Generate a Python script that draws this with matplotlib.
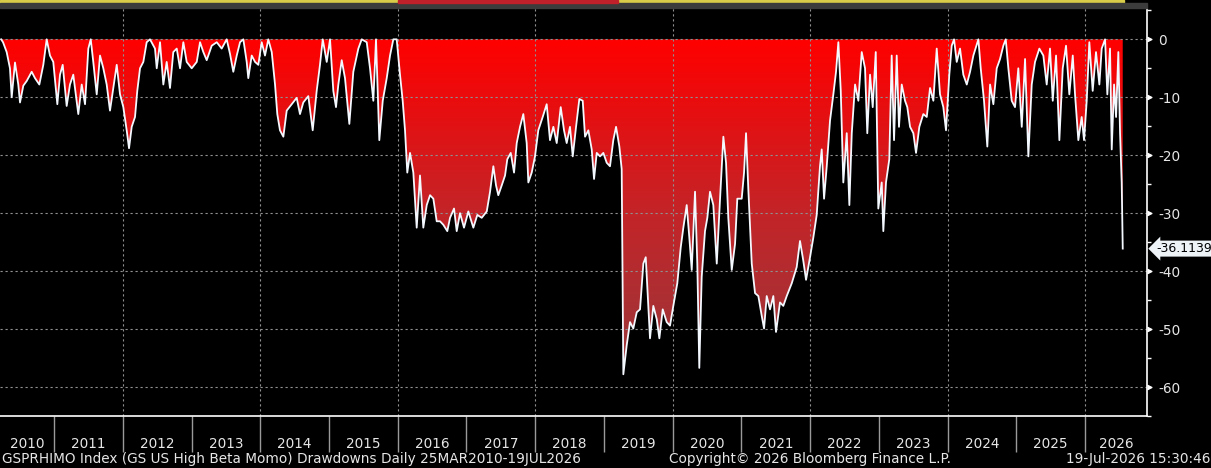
import numpy as np
import matplotlib
matplotlib.use('Agg')
import matplotlib.pyplot as plt
from matplotlib import font_manager
from matplotlib.colors import LinearSegmentedColormap
from matplotlib.transforms import blended_transform_factory

# drawdown (%), dates as decimal years
dates = [2010.230, 2010.258, 2010.311, 2010.359, 2010.384, 2010.432, 2010.480, 2010.505, 2010.553, 2010.602,
         2010.675, 2010.723, 2010.786, 2010.844, 2010.893, 2010.941, 2010.989, 2011.048, 2011.087, 2011.126,
         2011.184, 2011.232, 2011.280, 2011.353, 2011.403, 2011.451, 2011.499, 2011.534, 2011.571, 2011.621,
         2011.669, 2011.717, 2011.766, 2011.814, 2011.862, 2011.912, 2011.960, 2012.008, 2012.057, 2012.091,
         2012.130, 2012.178, 2012.211, 2012.251, 2012.299, 2012.348, 2012.396, 2012.469, 2012.494, 2012.542,
         2012.590, 2012.639, 2012.687, 2012.735, 2012.785, 2012.833, 2012.881, 2012.930, 2013.003, 2013.076,
         2013.124, 2013.172, 2013.221, 2013.294, 2013.367, 2013.439, 2013.512, 2013.560, 2013.608, 2013.658,
         2013.706, 2013.754, 2013.803, 2013.826, 2013.876, 2013.924, 2013.972, 2014.021, 2014.069, 2014.117,
         2014.167, 2014.215, 2014.248, 2014.287, 2014.336, 2014.385, 2014.458, 2014.530, 2014.578, 2014.626,
         2014.699, 2014.763, 2014.821, 2014.869, 2014.909, 2014.967, 2015.015, 2015.063, 2015.102, 2015.136,
         2015.185, 2015.233, 2015.296, 2015.354, 2015.427, 2015.476, 2015.549, 2015.597, 2015.645, 2015.684,
         2015.732, 2015.782, 2015.840, 2015.888, 2015.936, 2015.985, 2016.033, 2016.072, 2016.106, 2016.139,
         2016.179, 2016.227, 2016.276, 2016.324, 2016.372, 2016.422, 2016.470, 2016.518, 2016.567, 2016.615,
         2016.663, 2016.721, 2016.761, 2016.819, 2016.858, 2016.906, 2016.964, 2017.027, 2017.100, 2017.158,
         2017.222, 2017.295, 2017.343, 2017.391, 2017.430, 2017.463, 2017.513, 2017.561, 2017.594, 2017.644,
         2017.692, 2017.731, 2017.779, 2017.827, 2017.876, 2017.900, 2017.949, 2017.997, 2018.045, 2018.109,
         2018.167, 2018.215, 2018.264, 2018.313, 2018.371, 2018.419, 2018.458, 2018.506, 2018.546, 2018.594,
         2018.642, 2018.691, 2018.725, 2018.773, 2018.822, 2018.856, 2018.895, 2018.943, 2018.991, 2019.040,
         2019.088, 2019.136, 2019.176, 2019.224, 2019.258, 2019.282, 2019.331, 2019.379, 2019.427, 2019.477,
         2019.525, 2019.573, 2019.608, 2019.637, 2019.670, 2019.718, 2019.768, 2019.806, 2019.855, 2019.913,
         2019.961, 2020.009, 2020.067, 2020.117, 2020.155, 2020.204, 2020.242, 2020.277, 2020.325, 2020.358,
         2020.387, 2020.422, 2020.470, 2020.504, 2020.543, 2020.591, 2020.641, 2020.689, 2020.737, 2020.776,
         2020.809, 2020.859, 2020.907, 2020.940, 2021.004, 2021.038, 2021.067, 2021.100, 2021.150, 2021.198,
         2021.246, 2021.295, 2021.329, 2021.368, 2021.416, 2021.464, 2021.503, 2021.561, 2021.609, 2021.659,
         2021.732, 2021.804, 2021.852, 2021.900, 2021.940, 2021.998, 2022.046, 2022.095, 2022.143, 2022.168,
         2022.202, 2022.241, 2022.289, 2022.337, 2022.376, 2022.410, 2022.445, 2022.482, 2022.532, 2022.570,
         2022.605, 2022.653, 2022.701, 2022.750, 2022.798, 2022.831, 2022.871, 2022.910, 2022.954, 2022.991,
         2023.041, 2023.064, 2023.103, 2023.151, 2023.186, 2023.220, 2023.259, 2023.292, 2023.332, 2023.380,
         2023.413, 2023.453, 2023.501, 2023.540, 2023.588, 2023.646, 2023.696, 2023.744, 2023.792, 2023.841,
         2023.889, 2023.937, 2023.976, 2024.024, 2024.059, 2024.093, 2024.132, 2024.180, 2024.228, 2024.278,
         2024.326, 2024.374, 2024.447, 2024.481, 2024.529, 2024.577, 2024.617, 2024.665, 2024.714, 2024.762,
         2024.810, 2024.845, 2024.883, 2024.932, 2024.980, 2025.028, 2025.078, 2025.126, 2025.174, 2025.223,
         2025.271, 2025.334, 2025.392, 2025.441, 2025.489, 2025.529, 2025.577, 2025.625, 2025.674, 2025.722,
         2025.770, 2025.820, 2025.853, 2025.901, 2025.950, 2025.984, 2026.023, 2026.061, 2026.110, 2026.158,
         2026.207, 2026.241, 2026.290, 2026.323, 2026.362, 2026.387, 2026.421, 2026.450, 2026.483, 2026.508,
         2026.532, 2026.547]

drawdown = [0.0, -0.5, -2.2, -5.0, -10.0, -4.0, -7.8, -10.9, -8.0, -7.2,
            -5.6, -6.7, -7.8, -4.4, 0.0, -2.8, -3.9, -11.2, -6.1, -4.4,
            -11.5, -7.8, -6.1, -12.9, -7.8, -11.2, -1.6, 0.0, -3.9, -9.5,
            -2.8, -5.0, -7.8, -12.3, -8.4, -4.4, -9.5, -11.7, -15.7, -18.8,
            -15.1, -13.4, -8.9, -5.0, -3.9, -0.5, 0.0, -1.6, -5.0, -0.5,
            -7.8, -3.9, -8.4, -2.2, -1.6, -5.0, -0.5, -3.9, -5.0, -3.9,
            -0.5, -2.2, -3.6, -1.1, -0.5, -1.6, 0.0, -2.5, -5.6, -2.8,
            -0.5, 0.0, -3.9, -6.7, -2.8, -3.9, -4.4, -0.5, -2.8, 0.0,
            -2.2, -7.8, -12.9, -15.7, -16.8, -12.3, -11.2, -10.1, -12.9, -10.9,
            -9.8, -15.7, -8.9, -4.4, 0.0, -3.9, 0.0, -8.9, -11.7, -7.8,
            -3.6, -6.7, -14.6, -5.6, -1.6, 0.0, -0.5, -5.0, -10.6, 0.0,
            -17.4, -10.6, -6.7, -2.8, 0.0, 0.0, -6.1, -10.6, -15.7, -23.0,
            -19.6, -23.0, -32.5, -23.5, -32.5, -28.6, -26.9, -27.5, -31.4, -31.4,
            -32.0, -33.1, -30.8, -29.2, -33.1, -30.0, -32.5, -29.7, -32.5, -30.3,
            -30.8, -29.7, -26.3, -21.9, -25.2, -26.9, -25.2, -23.5, -20.7, -19.6,
            -23.0, -17.9, -15.1, -12.9, -17.9, -24.7, -23.0, -20.2, -15.7, -13.4,
            -11.2, -17.4, -15.1, -17.9, -11.7, -15.7, -17.9, -15.1, -20.2, -15.1,
            -10.3, -10.6, -16.8, -15.7, -19.0, -24.1, -19.6, -20.2, -19.6, -21.3,
            -21.9, -17.4, -15.1, -18.5, -22.4, -57.8, -52.8, -48.8, -49.9, -47.1,
            -46.6, -38.7, -37.6, -44.3, -51.6, -46.0, -48.3, -51.6, -46.6, -48.8,
            -49.4, -46.0, -42.1, -35.9, -32.5, -28.6, -34.2, -39.8, -26.3, -38.7,
            -56.7, -41.0, -33.1, -30.8, -26.3, -28.6, -38.7, -27.5, -16.8, -21.3,
            -30.8, -39.8, -35.3, -27.5, -27.5, -23.0, -16.2, -25.8, -38.7, -43.8,
            -44.3, -47.7, -49.9, -44.3, -46.6, -44.3, -50.5, -45.4, -46.0, -44.3,
            -42.1, -39.3, -34.8, -38.2, -41.5, -37.6, -34.2, -30.3, -21.9, -19.0,
            -27.5, -21.9, -14.0, -9.5, -5.6, -0.5, -8.9, -24.7, -16.2, -28.6,
            -16.2, -7.8, -10.6, -2.2, -5.0, -16.2, -6.1, -11.7, -2.2, -29.2,
            -24.7, -33.1, -24.7, -20.7, -2.8, -17.4, -2.8, -15.1, -7.8, -10.6,
            -11.7, -15.1, -16.2, -19.6, -15.1, -12.9, -13.4, -8.4, -10.6, -1.6,
            -9.5, -11.7, -15.7, -6.1, -1.1, 0.0, -3.9, -1.6, -6.1, -7.8,
            -5.6, -2.8, 0.0, -5.0, -10.6, -18.5, -7.8, -11.2, -5.0, -3.4,
            -1.1, 0.0, -5.0, -10.6, -11.7, -5.0, -15.1, -3.4, -20.2, -7.8,
            -3.9, -1.6, -2.8, -7.8, -1.6, -10.6, -2.8, -17.4, -5.0, -1.1,
            -9.5, -2.8, -9.5, -17.4, -13.4, -17.4, -10.6, -0.5, -8.9, -2.2,
            -7.8, -1.6, 0.0, -9.5, -1.6, -19.0, -7.8, -13.4, -2.2, -16.2,
            -24.7, -36.1139]

years = list(range(2010, 2027))
y_ticks = [0, -10, -20, -30, -40, -50, -60]
grid_years = [2012, 2014, 2016, 2018, 2020, 2022, 2024, 2026]

title_text = "GSPRHIMO Index (GS US High Beta Momo) Drawdowns Daily 25MAR2010-19JUL2026"
copyright_text = "Copyright\u00a9 2026 Bloomberg Finance L.P."
stamp_text = "19-Jul-2026 15:30:46"

# Bloomberg uses a narrow font; pick one if installed, else DejaVu a bit smaller
names = {f.name for f in font_manager.fontManager.ttflist}
if 'Liberation Sans Narrow' in names:
    family, fs, tag_fs, xpad = 'Liberation Sans Narrow', 10.8, 10.8, 14.5
else:
    family, fs, tag_fs, xpad = 'DejaVu Sans', 9.8, 9, 15
plt.rcParams['font.family'] = [family, 'DejaVu Sans']
TXT = '#e6e6e6'

W, H = 1211, 468
fig = plt.figure(figsize=(W / 100, H / 100), dpi=100, facecolor='black')
ax = fig.add_axes([0, 1 - 416 / H, 1147 / W, (416 - 6) / H])
ax.set_facecolor('black')

xmin, xmax = 2010.214, 2026.90
ax.set_xlim(xmin, xmax)
ax.set_ylim(-63.55, 5.75)

# gradient fill clipped to the area between 0 and the drawdown line
cmap = LinearSegmentedColormap.from_list('dd', ['#ff0000', '#c32428', '#963a3d'])
grad = np.linspace(0, 1, 256).reshape(-1, 1)
im = ax.imshow(grad, extent=[xmin, xmax, -60, 0], origin='upper', aspect='auto',
               cmap=cmap, zorder=1)
poly = ax.fill_between(dates, drawdown, 0, color='none', lw=0)
im.set_clip_path(poly.get_paths()[0], transform=ax.transData)

for v in y_ticks:
    ax.axhline(v, color='#909090', lw=0.8, ls=(0, (2, 2.5)), zorder=2)
for yr in grid_years:
    ax.axvline(yr, color='#909090', lw=0.8, ls=(0, (2, 2.5)), zorder=2)

ax.plot(dates, drawdown, color='#f4f8ff', lw=1.3, zorder=3)

# spines
for s in ['left', 'top']:
    ax.spines[s].set_visible(False)
for s in ['right', 'bottom']:
    ax.spines[s].set_color('white')
    ax.spines[s].set_linewidth(1.2)

# y axis on the right
ax.yaxis.tick_right()
ax.set_yticks(y_ticks)
ax.set_yticklabels([str(v) for v in y_ticks])
ax.set_yticks(np.arange(-65, 6, 10), minor=True)
ax.tick_params(axis='y', which='major', length=0, pad=8, labelcolor=TXT, labelsize=fs)
ax.tick_params(axis='y', which='minor', length=3, width=1, color='white', direction='out')
tr = blended_transform_factory(ax.transAxes, ax.transData)
tri = [(0, -0.5), (1, 0), (0, 0.5)]
ax.scatter([1.0] * len(y_ticks), y_ticks, marker=tri, s=40, color='white',
           transform=tr, clip_on=False, zorder=5)

# x axis: year separators + centred labels
mids = []
for yr in years:
    a = max(yr, xmin)
    b = min(yr + 1, xmax)
    mids.append((a + b) / 2)
ax.set_xticks(mids)
ax.set_xticklabels([str(y) for y in years])
ax.set_xticks(years[1:], minor=True)
ax.tick_params(axis='x', which='major', length=0, pad=xpad, labelcolor=TXT, labelsize=fs)
ax.tick_params(axis='x', which='minor', length=26, width=1, color='#9a9a9a', direction='out')

# last value tag
ax.annotate('-36.1139', xy=(1.0, drawdown[-1]), xycoords=tr,
            xytext=(7, 0), textcoords='offset points', va='center', ha='left',
            fontsize=tag_fs, color='black', annotation_clip=False,
            bbox=dict(boxstyle='larrow,pad=0.12', fc='#eef3f8', ec='none'))

# top strip
fig.patches.append(plt.Rectangle((0, 1 - 3 / H), 1124 / W, 3 / H, transform=fig.transFigure,
                                 color='#d8cc48', zorder=5))
fig.patches.append(plt.Rectangle((0, 1 - 8 / H), 1147 / W, 5 / H, transform=fig.transFigure,
                                 color='#3c3c3c', zorder=5))
fig.patches.append(plt.Rectangle((398 / W, 1 - 3 / H), 220 / W, 3 / H, transform=fig.transFigure,
                                 color='#c0202a', zorder=6))

# footer
fig.text(2 / W, 1 - 459 / H, title_text, color=TXT, fontsize=fs, va='center', ha='left')
fig.text(669 / W, 1 - 459 / H, copyright_text, color=TXT, fontsize=fs, va='center', ha='left')
fig.text(1210 / W, 1 - 459 / H, stamp_text, color=TXT, fontsize=fs, va='center', ha='right')

fig.savefig('out.png', dpi=100, facecolor='black')
